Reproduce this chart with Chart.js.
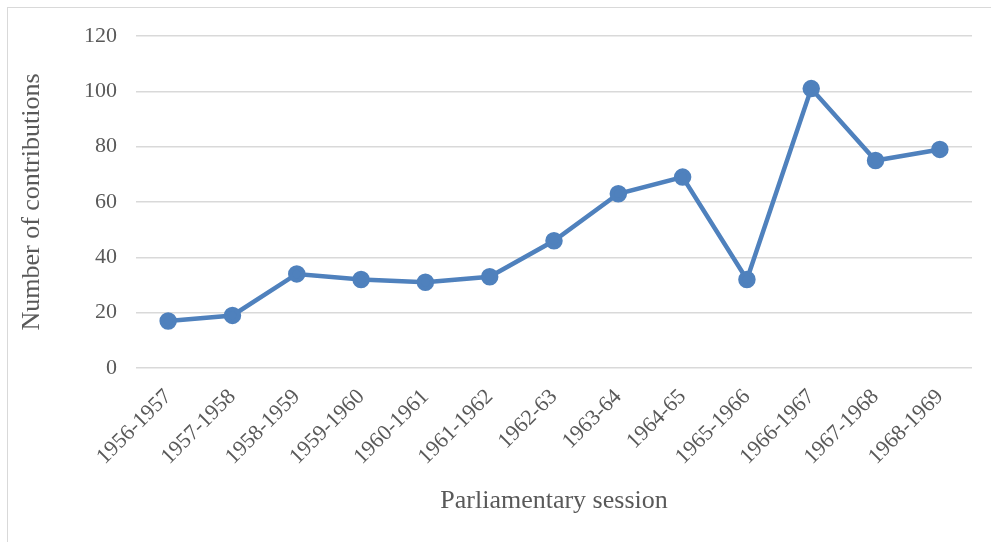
<!DOCTYPE html>
<html>
<head>
<meta charset="utf-8">
<script src="https://cdn.jsdelivr.net/npm/chart.js@4"></script>
<style>
  html, body { margin: 0; padding: 0; background: #fff; }
  #frame { position: absolute; left: 7px; top: 7px; width: 1000px; height: 600px; border: 1px solid #d9d9d9; box-sizing: border-box; }
  #wrap { position: absolute; left: 0; top: 0; width: 991px; height: 542px; }
</style>
</head>
<body>
<div id="frame"></div>
<div id="wrap"><canvas id="chart"></canvas></div>
<script>
// sessions and number of contributions
const sessions = ['1956-1957', '1957-1958', '1958-1959', '1959-1960', '1960-1961', '1961-1962',
  '1962-63', '1963-64', '1964-65', '1965-1966', '1966-1967', '1967-1968', '1968-1969'];
const contributions = [17, 19, 34, 32, 31, 33, 46, 63, 69, 32, 101, 75, 79];
const yTicks = [0, 20, 40, 60, 80, 100, 120];

const serif = '"Liberation Serif", "Times New Roman", serif';
const textColor = '#595959';

new Chart(document.getElementById('chart'), {
  type: 'line',
  data: {
    labels: sessions,
    datasets: [{
      label: 'Number of contributions',
      data: contributions,
      borderColor: '#4f81bd',
      backgroundColor: '#4f81bd',
      borderWidth: 4.5,
      pointRadius: 6.5,
      pointHoverRadius: 6.5,
      tension: 0
    }]
  },
  options: {
    responsive: true,
    maintainAspectRatio: false,
    animation: false,
    layout: { padding: { left: 0, right: 19, top: 36, bottom: 0 } },
    plugins: { legend: { display: false }, tooltip: { enabled: false } },
    scales: {
      x: {
        offset: true,
        grid: { display: false },
        border: { display: false },
        afterFit: axis => { axis.height = 174; },
        ticks: {
          color: textColor, font: { family: serif, size: 22 },
          maxRotation: 45, minRotation: 45, autoSkip: false, padding: 8
        },
        title: {
          display: true, text: 'Parliamentary session', color: textColor,
          font: { family: serif, size: 26 }, padding: { top: 27, bottom: 25 }
        }
      },
      y: {
        min: 0, max: 120,
        afterBuildTicks: axis => { axis.ticks = yTicks.map(v => ({ value: v })); },
        afterFit: axis => { axis.width = 136; },
        grid: { color: '#d9d9d9', lineWidth: 1.5, drawTicks: false },
        border: { display: false },
        ticks: { color: textColor, font: { family: serif, size: 22 }, padding: 19 },
        title: {
          display: true, text: 'Number of contributions', color: textColor,
          font: { family: serif, size: 26 }, padding: { top: 17 }
        }
      }
    }
  }
});
</script>
</body>
</html>
